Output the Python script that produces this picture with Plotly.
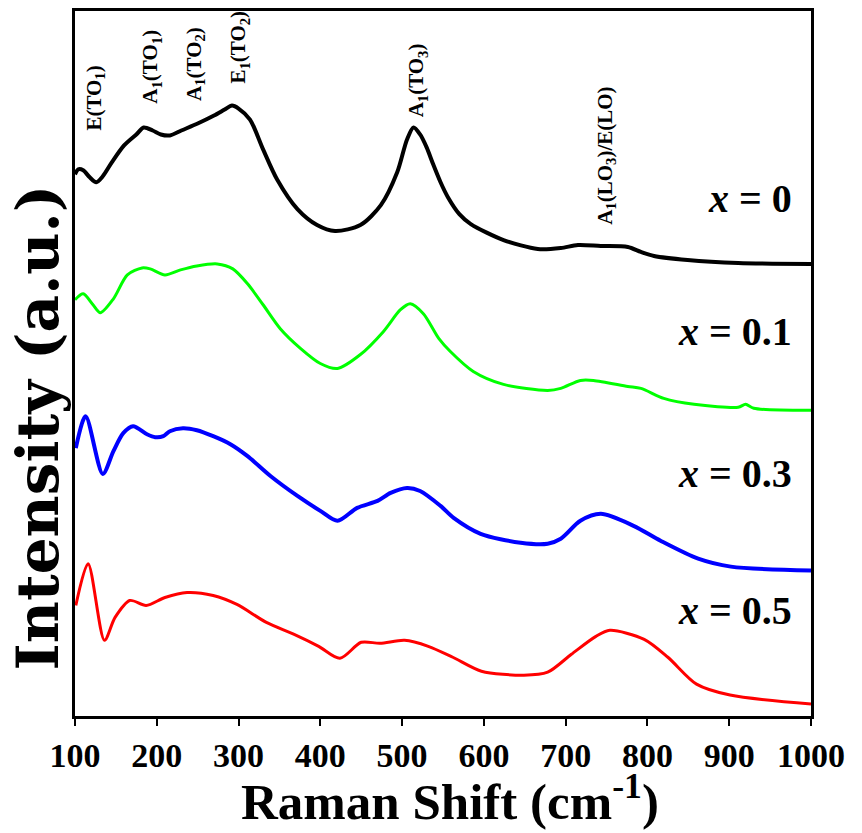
import plotly.graph_objects as go

# Raman shift (cm^-1) and intensity (a.u., vertically offset) for each composition
x0_shift = [100, 104, 110, 118, 126, 134, 145, 160, 175, 184, 195, 205, 216, 230, 250, 270, 283, 292, 300, 314,
            330, 347, 372, 396, 418, 449, 474, 494, 506, 514, 522, 530, 538, 547, 556, 570, 584, 624, 666, 694,
            715, 743, 776, 792, 808, 849, 911, 1000]
x0_int = [544, 549, 548, 541, 536, 542, 556, 573, 584, 591, 588, 584, 583, 588, 595, 603, 609, 613, 610, 599,
          569, 539, 509, 493, 487, 493, 513, 546, 579, 591, 584, 571, 554, 536, 521, 504, 494, 478, 469, 470,
          473, 472, 471, 466, 462, 458, 455, 454]

x01_shift = [100, 110, 122, 131, 147, 164, 182, 192, 210, 229, 249, 274, 293, 311, 330, 351, 376, 400, 421, 449,
             477, 498, 510, 526, 545, 559, 587, 624, 678, 694, 718, 734, 776, 792, 820, 857, 911, 920, 930, 1000]
x01_int = [418, 424, 413, 405, 419, 443, 450, 449, 443, 448, 452, 454, 449, 434, 413, 389, 369, 354, 349, 363,
           386, 408, 414, 404, 379, 366, 346, 333, 327, 329, 337, 337, 331, 329, 319, 313, 310, 313, 309, 307]

x03_shift = [101, 113, 134, 147, 159, 171, 188, 198, 208, 216, 232, 249, 269, 290, 311, 339, 372, 400, 421, 445,
             470, 486, 506, 522, 547, 563, 596, 645, 678, 694, 718, 743, 783, 816, 862, 902, 1000]
x03_int = [269, 301, 243, 266, 284, 291, 283, 280, 281, 286, 289, 287, 281, 273, 261, 241, 221, 206, 196, 209,
           216, 224, 229, 226, 211, 199, 183, 174, 173, 178, 196, 203, 191, 176, 158, 150, 146]

x05_shift = [101, 116, 136, 149, 167, 187, 210, 237, 269, 298, 334, 368, 398, 424, 450, 473, 503, 532, 562, 597,
             649, 678, 707, 737, 754, 796, 825, 860, 901, 1000]
x05_int = [111, 153, 76, 99, 116, 111, 119, 124, 121, 112, 94, 82, 70, 58, 74, 73, 76, 70, 59, 45,
           41, 44, 62, 80, 86, 77, 59, 32, 21, 12]

series_labels = ["<i>x</i> = 0", "<i>x</i> = 0.1", "<i>x</i> = 0.3", "<i>x</i> = 0.5"]
series_colors = ["#000000", "#00FF00", "#0000FF", "#FF0000"]
series_widths = [4, 3, 4, 3]
label_y = [520, 386, 244, 106]

peak_labels = ["E(TO<sub>1</sub>)", "A<sub>1</sub>(TO<sub>1</sub>)", "A<sub>1</sub>(TO<sub>2</sub>)",
               "E<sub>1</sub>(TO<sub>2</sub>)", "A<sub>1</sub>(TO<sub>3</sub>)",
               "A<sub>1</sub>(LO<sub>3</sub>)/E(LO)"]
peak_x = [124, 193, 246, 301, 518, 749]
peak_y = [586, 613, 616, 633, 599, 491]

tick_vals = [100, 200, 300, 400, 500, 600, 700, 800, 900, 1000]

FONT = "Liberation Serif"

fig = go.Figure()
data = [(x0_shift, x0_int), (x01_shift, x01_int), (x03_shift, x03_int), (x05_shift, x05_int)]
for (xs, ys), col, w in zip(data, series_colors, series_widths):
    fig.add_trace(go.Scatter(x=xs, y=ys, mode="lines", line=dict(color=col, width=w, shape="spline", smoothing=0.8),
                             showlegend=False, hoverinfo="skip"))

annotations = []
for txt, yy in zip(series_labels, label_y):
    annotations.append(dict(x=979, y=yy, xref="x", yref="y", text="<b>" + txt + "</b>", showarrow=False,
                            xanchor="right", yanchor="middle", font=dict(family=FONT, size=40, color="black")))
for txt, xx, yy in zip(peak_labels, peak_x, peak_y):
    annotations.append(dict(x=xx, y=yy, xref="x", yref="y", text="<b>" + txt + "</b>", showarrow=False,
                            textangle=-90, xanchor="center", yanchor="bottom",
                            font=dict(family=FONT, size=21, color="black")))
annotations.append(dict(x=0.51, y=-0.116, xref="paper", yref="paper",
                        text="<b>Raman Shift (cm<sup>-1</sup>)</b>", showarrow=False,
                        xanchor="center", yanchor="middle", font=dict(family=FONT, size=51, color="black")))
annotations.append(dict(x=-0.051, y=0.41, xref="paper", yref="paper",
                        text="<b>Intensity (a.u.)</b>", showarrow=False, textangle=-90,
                        xanchor="center", yanchor="middle", font=dict(family="DejaVu Serif", size=58, color="black")))

fig.update_layout(
    width=862, height=833,
    margin=dict(l=75, r=51, t=8, b=117),
    paper_bgcolor="white", plot_bgcolor="white",
    annotations=annotations,
    xaxis=dict(range=[100, 1000], tickvals=tick_vals, ticks="outside", ticklen=7, tickwidth=2, tickcolor="black",
               showline=True, linewidth=2.5, linecolor="black", mirror=True, showgrid=False, zeroline=False,
               tickfont=dict(family=FONT, size=34, color="black", weight="bold")),
    yaxis=dict(range=[0, 708], showticklabels=False, ticks="", showline=True, linewidth=2.5, linecolor="black",
               mirror=True, showgrid=False, zeroline=False),
)

fig.write_html("out.html")
